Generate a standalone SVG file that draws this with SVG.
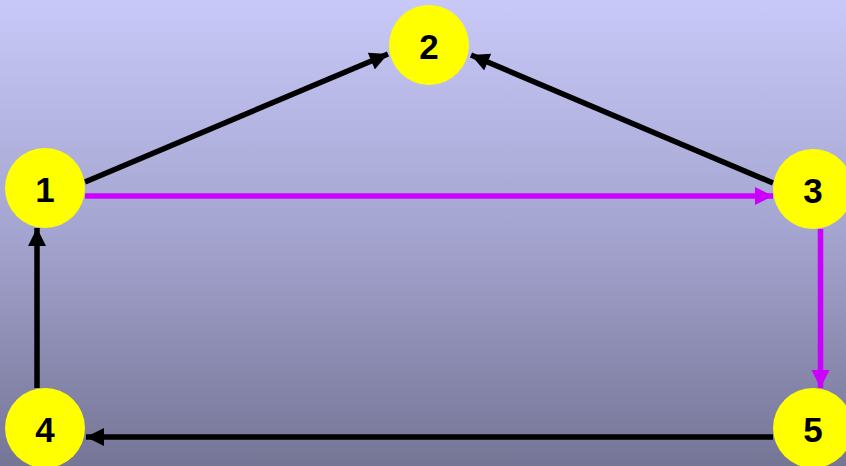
<svg xmlns="http://www.w3.org/2000/svg" width="846" height="466" viewBox="0 0 846 466">
<defs>
<linearGradient id="bg" x1="0" y1="0" x2="0" y2="1">
<stop offset="0" stop-color="#c9c9f9"/>
<stop offset="0.5" stop-color="#a4a4d0"/>
<stop offset="1" stop-color="#757596"/>
</linearGradient>
<marker id="ab" viewBox="0 0 10 10" refX="10" refY="5" markerWidth="3.4" markerHeight="3.3" orient="auto" markerUnits="strokeWidth">
<path d="M0,0 L10,5 L0,10 z" fill="#000"/>
</marker>
<marker id="ap" viewBox="0 0 10 10" refX="10" refY="5" markerWidth="3.4" markerHeight="3.3" orient="auto" markerUnits="strokeWidth">
<path d="M0,0 L10,5 L0,10 z" fill="#cc00ff"/>
</marker>
</defs>
<style>
.node circle{fill:#ffff00;}
.node text{font-family:"Liberation Sans",Arial,sans-serif;font-weight:bold;font-size:35px;fill:#000;text-anchor:middle;dominant-baseline:central;}
.e{fill:none;stroke-width:5.5;}
.k{stroke:#000;marker-end:url(#ab);}
.p{stroke:#cc00ff;marker-end:url(#ap);}
</style>
<rect width="846" height="466" fill="url(#bg)"/>
<g id="edges">
<line class="e k" x1="85" y1="182" x2="388" y2="54"/>
<line class="e k" x1="773" y1="183" x2="471" y2="55"/>
<line class="e p" x1="85" y1="196" x2="773" y2="196"/>
<line class="e p" x1="820.5" y1="229" x2="820.5" y2="388"/>
<line class="e k" x1="773" y1="437" x2="86" y2="437"/>
<line class="e k" x1="37" y1="388" x2="37" y2="228"/>
</g>
<g id="n1" class="node"><circle cx="45" cy="188" r="40"/><text x="45" y="189">1</text></g>
<g id="n2" class="node"><circle cx="429" cy="45" r="40"/><text x="429" y="46">2</text></g>
<g id="n3" class="node"><circle cx="813" cy="189" r="40"/><text x="813" y="190">3</text></g>
<g id="n4" class="node"><circle cx="45" cy="428" r="40"/><text x="45" y="429">4</text></g>
<g id="n5" class="node"><circle cx="813" cy="428" r="40"/><text x="813" y="429">5</text></g>
</svg>
